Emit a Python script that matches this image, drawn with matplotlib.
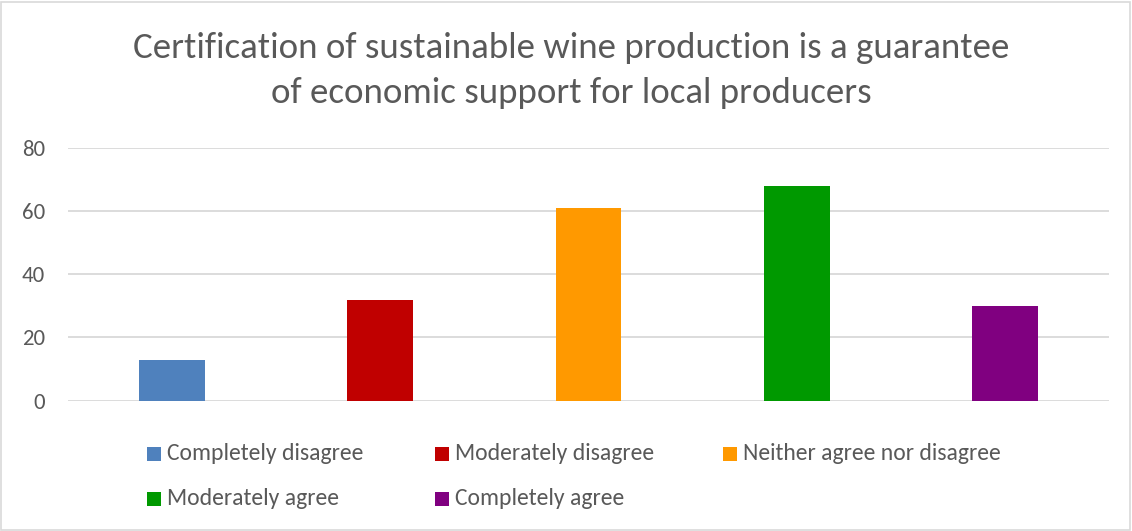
import matplotlib
matplotlib.use("Agg")
import matplotlib.pyplot as plt
from matplotlib import font_manager
from matplotlib.patches import Rectangle

categories = ["Completely disagree", "Moderately disagree", "Neither agree nor disagree",
              "Moderately agree", "Completely agree"]
values = [13, 32, 61, 68, 30]
colors = ["#4F81BD", "#C00000", "#FF9900", "#009900", "#800080"]
yticks = [0, 20, 40, 60, 80]
title_lines = ["Certification of sustainable wine production is a guarantee",
               "of economic support for local producers"]

installed = {f.name for f in font_manager.fontManager.ttflist}
family = next((f for f in ["Carlito", "Liberation Sans Narrow", "Roboto", "DejaVu Sans"]
               if f in installed), "DejaVu Sans")
plt.rcParams["font.family"] = [family, "DejaVu Sans"]

text_color = "#595959"
grid_color = "#D9D9D9"
W, H = 1132, 531

fig = plt.figure(figsize=(W / 100, H / 100), dpi=100)
fig.patch.set_facecolor("white")
fig.add_artist(Rectangle((0.001, 0.002), 0.997, 0.995, transform=fig.transFigure,
                         fill=False, edgecolor=grid_color, linewidth=1.2))

ax = fig.add_axes([68 / W, 0.2454, 1041 / W, 0.4764])
x = list(range(len(categories)))
ax.bar(x, values, width=0.317, color=colors, zorder=3)
ax.set_xlim(-0.5, len(categories) - 0.5)
ax.set_ylim(0, 80)
ax.set_yticks(yticks)
ax.set_yticklabels([str(t) for t in yticks], fontsize=16.5, color=text_color)
ax.set_xticks([])
ax.tick_params(axis="y", length=0, pad=16.5)
ax.yaxis.grid(True, color=grid_color, linewidth=1.3, zorder=0)
for s in ax.spines.values():
    s.set_visible(False)

# two-line title, each line on its own baseline
for line, base in zip(title_lines, [58, 103]):
    fig.text(571.5 / W, (H - base) / H, line, ha="center", va="baseline",
             fontsize=26.6, color=text_color)

# legend laid out in a three-column grid
col_x = [146.7, 434.7, 722.7]
row_y = [453.5, 498.5]
sq = 14
for i, (lab, c) in enumerate(zip(categories, colors)):
    cx = col_x[i % 3]
    cy = row_y[i // 3]
    fig.add_artist(Rectangle((cx / W, (H - cy - sq / 2) / H), sq / W, sq / H,
                             transform=fig.transFigure, facecolor=c, edgecolor="none"))
    fig.text((cx + sq + 6) / W, (H - cy) / H, lab, ha="left", va="center",
             fontsize=17, color=text_color)

fig.savefig("out.png", dpi=100)
